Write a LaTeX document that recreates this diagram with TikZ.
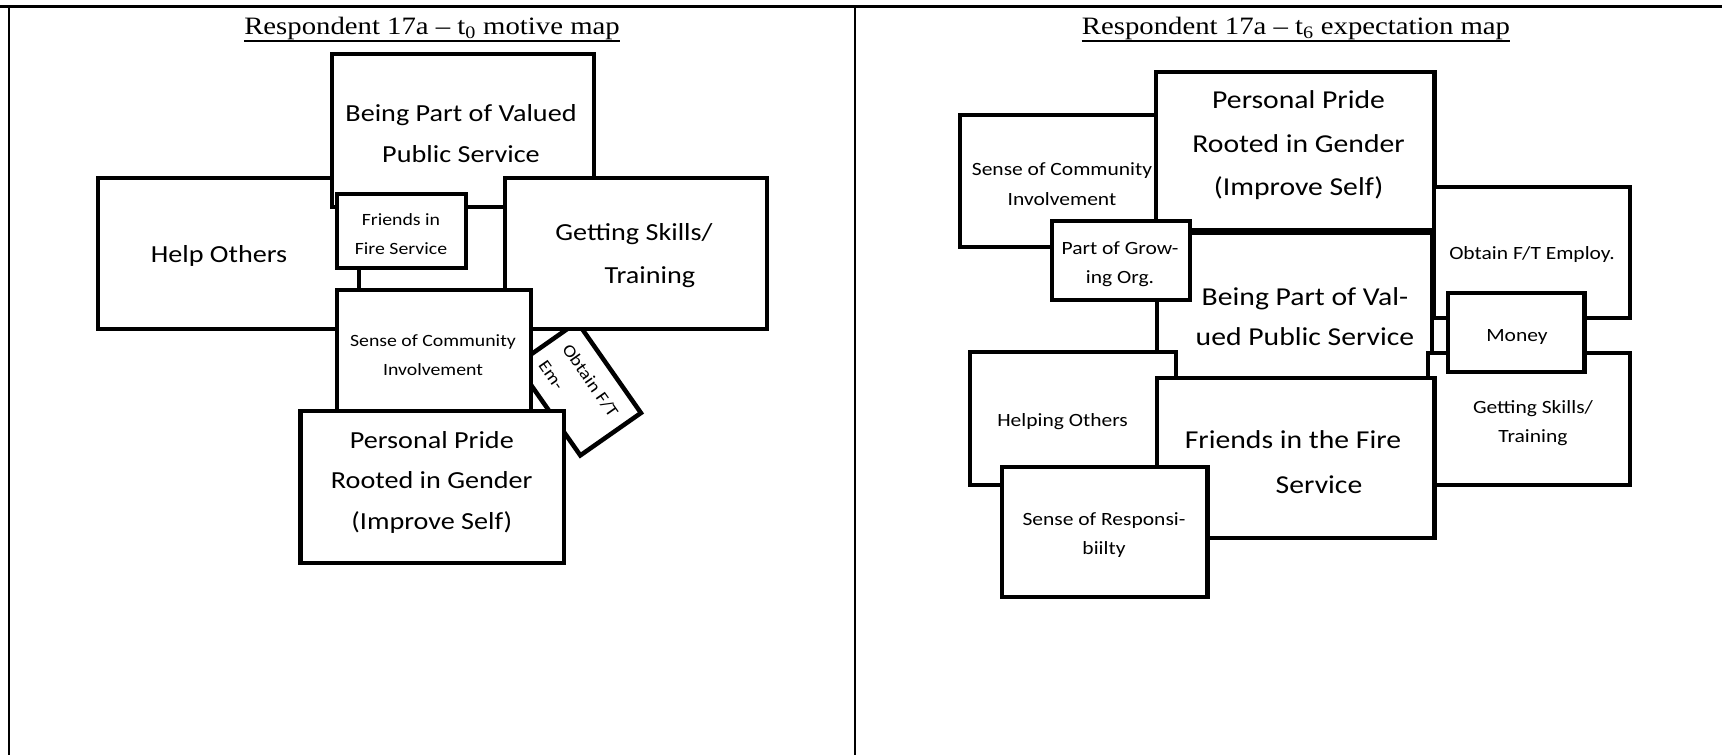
\documentclass[tikz,border=0pt]{standalone}
\usepackage{fontspec}
\newfontfamily\calfont[FakeStretch=1.15]{Carlito}
\newfontfamily\timesfont[FakeStretch=1.15]{Liberation Serif}
\tikzset{
  box/.style={draw=black, line width=4.5pt, fill=white, inner sep=0pt},
  big/.style={font=\calfont\fontsize{24.5}{41}\selectfont, align=center, inner sep=0pt},
  bigr/.style={font=\calfont\fontsize{25.8}{43}\selectfont, align=center, inner sep=0pt},
  small/.style={font=\calfont\fontsize{17.2}{29}\selectfont, align=center, inner sep=0pt},
  smallr/.style={font=\calfont\fontsize{18.7}{29.5}\selectfont, align=center, inner sep=0pt},
  ttl/.style={font=\timesfont\fontsize{25}{30}\selectfont, inner sep=0pt, anchor=base},
  frame/.style={draw=black, line width=2pt},
  uline/.style={draw=black, line width=1.8pt}
}
\begin{document}
\begin{tikzpicture}[x=1pt,y=-1pt]
\useasboundingbox (0,0) rectangle (1722,755);
% frame
\coordinate (ftl) at (0,6.5);
\coordinate (ftr) at (1722,6.5);
\coordinate (fl1) at (8.5,6.5);
\coordinate (fl2) at (8.5,755);
\coordinate (fm1) at (855,6.5);
\coordinate (fm2) at (855,755);
\draw[frame, line width=2.6pt] (ftl) -- (ftr);
\draw[frame] (fl1) -- (fl2);
\draw[frame] (fm1) -- (fm2);

% titles
\node[ttl] (t1) at (432,34.3) {Respondent 17a – t\textsubscript{0} motive map};
\draw[uline] ([yshift=-6.4pt]t1.base west) -- ([yshift=-6.4pt]t1.base east);
\node[ttl] (t2) at (1296,34.3) {Respondent 17a – t\textsubscript{6} expectation map};
\draw[uline] ([yshift=-6.4pt]t2.base west) -- ([yshift=-6.4pt]t2.base east);

% ---------- left map ----------
\node[box, minimum width=261, minimum height=151] (ho1) at (228.5,253.5) {};
\node[big] (ho1t) at (219,256) {Help Others};

\node[box, minimum width=262, minimum height=153] (bp1) at (463,130.5) {};
\node[big] (bp1t) at (461,134) {Being Part of Valued\\Public Service};

\node[box, rotate=-55, minimum width=111, minimum height=74, small, align=left] (ob1) at (578.8,388.7) {Obtain F/T\\Em-};

\node[box, minimum width=262, minimum height=151] (gs1) at (636,253.5) {};
\node[big, font=\calfont\fontsize{24.5}{43}\selectfont] (gs1t) at (634,256) {Getting Skills/\\\hspace*{32pt}Training};

\node[box, minimum width=129, minimum height=74] (fr1) at (401.5,231) {};
\node[small] (fr1t) at (401,234) {Friends in\\Fire Service};

\node[box, minimum width=194, minimum height=125] (sc1) at (434,352.5) {};
\node[small] (sc1t) at (433,355) {Sense of Community\\Involvement};

\node[box, minimum width=263.4, minimum height=152] (pp1) at (432.3,487) {};
\node[big, font=\calfont\fontsize{24.5}{40.5}\selectfont] (pp1t) at (431.8,482) {Personal Pride\\Rooted in Gender\\(Improve Self)};

% ---------- right map ----------
\node[box, minimum width=205, minimum height=132] (sc2) at (1062.5,181) {};
\node[smallr] (sc2t) at (1062,184) {Sense of Community\\Involvement};

\node[box, minimum width=278.5, minimum height=158] (pp2) at (1295.25,151) {};
\node[bigr, font=\calfont\fontsize{25.8}{43.5}\selectfont] (pp2t) at (1298.6,145.5) {Personal Pride\\Rooted in Gender\\(Improve Self)};

\node[box, minimum width=275, minimum height=165] (bp2) at (1294.5,315.5) {};
\node[bigr, font=\calfont\fontsize{25.8}{40}\selectfont] (bp2t) at (1305,317) {Being Part of Val-\\ued Public Service};

\node[box, minimum width=138, minimum height=79] (pg2) at (1121,260.5) {};
\node[smallr] (pg2t) at (1120,264) {Part of Grow-\\ing Org.};

\node[box, minimum width=196, minimum height=131] (ob2) at (1532,252.5) {};
\node[smallr] (ob2t) at (1532,255) {Obtain F/T Employ.};

\node[box, minimum width=202, minimum height=132] (gs2) at (1529,419) {};
\node[smallr] (gs2t) at (1533,423) {Getting Skills/\\Training};

\node[box, minimum width=136.5, minimum height=79] (mo2) at (1516.25,332.5) {};
\node[smallr] (mo2t) at (1517,337) {Money};

\node[box, minimum width=206, minimum height=133] (hp2) at (1073,418.5) {};
\node[smallr] (hp2t) at (1062.6,422) {Helping Others};

\node[box, minimum width=277.5, minimum height=160] (fr2) at (1295.75,458) {};
\node[bigr, font=\calfont\fontsize{25.8}{45}\selectfont] (fr2t) at (1293,462) {Friends in the Fire\\\hspace*{52pt}Service};

\node[box, minimum width=205.5, minimum height=130] (sr2) at (1104.75,532) {};
\node[smallr] (sr2t) at (1104,535) {Sense of Responsi-\\biilty};
\end{tikzpicture}
\end{document}
